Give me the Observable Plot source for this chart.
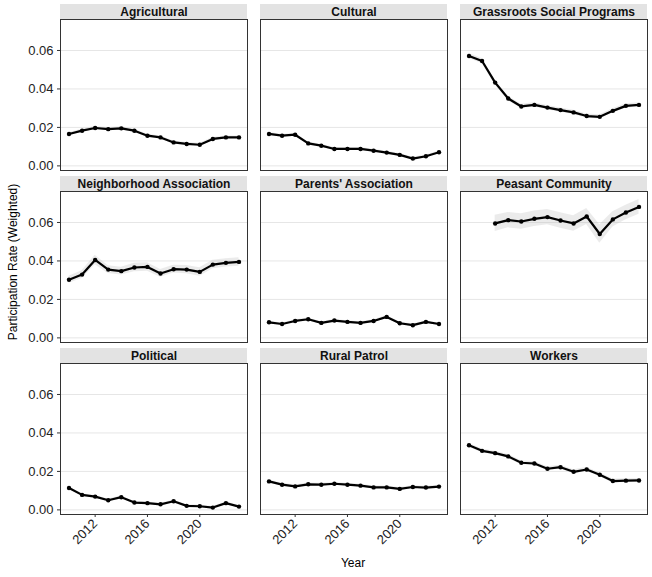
<!DOCTYPE html>
<html>
<head>
<meta charset="utf-8">
<script src="https://cdn.jsdelivr.net/npm/d3@7"></script>
<script src="https://cdn.jsdelivr.net/npm/@observablehq/plot@0.6"></script>
<style>
  html, body { margin: 0; padding: 0; background: #fff; }
  #wrap { position: relative; width: 652px; height: 577px; font-family: "Liberation Sans", Arial, Helvetica, sans-serif; }
  .lab { position: absolute; font-size: 12px; color: #000; white-space: nowrap; }
</style>
</head>
<body>
<div id="wrap"></div>
<script>
// ---- Data ----
const years = [2010, 2011, 2012, 2013, 2014, 2015, 2016, 2017, 2018, 2019, 2020, 2021, 2022, 2023];
const categories = ["Agricultural", "Cultural", "Grassroots Social Programs",
  "Neighborhood Association", "Parents' Association", "Peasant Community",
  "Political", "Rural Patrol", "Workers"];

const agricultural = [0.0166, 0.0183, 0.0197, 0.0191, 0.0195, 0.0183, 0.0157, 0.0148, 0.0122, 0.0114, 0.0110, 0.0140, 0.0148, 0.0148];
const cultural     = [0.0166, 0.0157, 0.0162, 0.0117, 0.0105, 0.0088, 0.0088, 0.0088, 0.0079, 0.0069, 0.0057, 0.0038, 0.0050, 0.0071];
const grassroots   = [0.0571, 0.0545, 0.0433, 0.0350, 0.0309, 0.0317, 0.0303, 0.0290, 0.0278, 0.0259, 0.0255, 0.0286, 0.0312, 0.0317];
const neighborhood = [0.0302, 0.0329, 0.0405, 0.0355, 0.0347, 0.0366, 0.0369, 0.0335, 0.0357, 0.0355, 0.0343, 0.0381, 0.0390, 0.0395];
const parents      = [0.0081, 0.0072, 0.0088, 0.0097, 0.0078, 0.0090, 0.0083, 0.0078, 0.0088, 0.0109, 0.0076, 0.0066, 0.0083, 0.0072];
const peasant      = [null, null, 0.0595, 0.0612, 0.0605, 0.0619, 0.0628, 0.0610, 0.0595, 0.0631, 0.0540, 0.0616, 0.0652, 0.0681];
const political    = [0.0114, 0.0078, 0.0069, 0.0050, 0.0066, 0.0038, 0.0035, 0.0029, 0.0045, 0.0021, 0.0019, 0.0012, 0.0035, 0.0017];
const ruralPatrol  = [0.0148, 0.0131, 0.0122, 0.0133, 0.0131, 0.0136, 0.0131, 0.0126, 0.0117, 0.0117, 0.0109, 0.0119, 0.0116, 0.0121];
const workers      = [0.0336, 0.0307, 0.0295, 0.0278, 0.0245, 0.0241, 0.0214, 0.0222, 0.0198, 0.0210, 0.0183, 0.0150, 0.0152, 0.0153];

// half-width of the shaded confidence band
const agriculturalCI = [0.0008, 0.0008, 0.0008, 0.0008, 0.0008, 0.0008, 0.0008, 0.0008, 0.0008, 0.0008, 0.0008, 0.0008, 0.0008, 0.0008];
const culturalCI     = [0.0007, 0.0007, 0.0007, 0.0007, 0.0007, 0.0007, 0.0007, 0.0007, 0.0007, 0.0007, 0.0007, 0.0007, 0.0007, 0.0007];
const grassrootsCI   = [0.0013, 0.0013, 0.0013, 0.0012, 0.0011, 0.0011, 0.0011, 0.0011, 0.0011, 0.0011, 0.0011, 0.0011, 0.0011, 0.0011];
const neighborhoodCI = [0.0018, 0.0020, 0.0025, 0.0020, 0.0020, 0.0022, 0.0022, 0.0020, 0.0020, 0.0021, 0.0022, 0.0022, 0.0022, 0.0022];
const parentsCI      = [0.0006, 0.0006, 0.0006, 0.0006, 0.0006, 0.0006, 0.0006, 0.0006, 0.0006, 0.0007, 0.0006, 0.0006, 0.0006, 0.0006];
const peasantCI      = [null, null, 0.0042, 0.0040, 0.0040, 0.0040, 0.0040, 0.0040, 0.0040, 0.0042, 0.0048, 0.0040, 0.0038, 0.0038];
const politicalCI    = [0.0006, 0.0006, 0.0006, 0.0006, 0.0006, 0.0006, 0.0006, 0.0006, 0.0006, 0.0006, 0.0006, 0.0006, 0.0006, 0.0006];
const ruralPatrolCI  = [0.0007, 0.0007, 0.0007, 0.0007, 0.0007, 0.0007, 0.0007, 0.0007, 0.0007, 0.0007, 0.0007, 0.0007, 0.0007, 0.0007];
const workersCI      = [0.0010, 0.0010, 0.0010, 0.0010, 0.0010, 0.0010, 0.0010, 0.0010, 0.0010, 0.0010, 0.0010, 0.0010, 0.0010, 0.0010];

const yTicks = [0, 0.02, 0.04, 0.06];
const xTicks = [2012, 2016, 2020];

// ---- Build the table ----
const seriesList = [agricultural, cultural, grassroots, neighborhood, parents, peasant, political, ruralPatrol, workers];
const ciList = [agriculturalCI, culturalCI, grassrootsCI, neighborhoodCI, parentsCI, peasantCI, politicalCI, ruralPatrolCI, workersCI];
const rows = [];
categories.forEach((cat, i) => {
  years.forEach((yr, j) => {
    const v = seriesList[i][j];
    if (v == null) return;
    const ci = ciList[i][j];
    rows.push({cat, col: i % 3, row: Math.floor(i / 3), year: yr, value: v, lo: v - ci, hi: v + ci});
  });
});
const strips = categories.map((cat, i) => ({cat, col: i % 3, row: Math.floor(i / 3)}));

const xDomain = [2009.35, 2023.65];
const yDomain = [-0.0024, 0.0761];
const stripTop = 0.0839;

const chart = Plot.plot({
  width: 652,
  height: 577,
  marginLeft: 60,
  marginRight: 5,
  marginTop: 18,
  marginBottom: 61,
  style: {fontFamily: '"Liberation Sans", Arial, Helvetica, sans-serif', fontSize: "12px", background: "#fff"},
  fx: {domain: [0, 1, 2], padding: 0.065, axis: null, label: null},
  fy: {domain: [0, 1, 2], padding: 0.121, axis: null, label: null},
  x: {domain: xDomain, label: null},
  y: {domain: yDomain, label: null},
  marks: [
    Plot.gridY(yTicks, {stroke: "#e6e6e6", strokeOpacity: 1, strokeWidth: 1}),
    Plot.areaY(rows, {x: "year", y1: "lo", y2: "hi", fx: "col", fy: "row", z: "cat", fill: "#bdbdbd", fillOpacity: 0.3, curve: "linear"}),
    Plot.line(rows, {x: "year", y: "value", fx: "col", fy: "row", z: "cat", stroke: "#000", strokeWidth: 2.2}),
    Plot.dot(rows, {x: "year", y: "value", fx: "col", fy: "row", r: 2.2, fill: "#000", stroke: "none"}),
    Plot.frame({stroke: "#333", strokeWidth: 1}),
    Plot.rect(strips, {fx: "col", fy: "row", x1: () => xDomain[0], x2: () => xDomain[1], y1: () => yDomain[1], y2: () => stripTop, fill: "#e3e3e3", clip: false}),
    Plot.text(strips, {fx: "col", fy: "row", text: "cat", frameAnchor: "top", lineAnchor: "middle", dy: -7.5, fontWeight: "bold", fontSize: 12, fill: "#111"}),
    Plot.axisY(yTicks, {tickSize: 3, tickPadding: 4, tickFormat: d3.format(".2f"), fontSize: 13, fill: "#222", stroke: "#333", label: null}),
    Plot.axisX(xTicks, {tickSize: 3, tickPadding: 4, tickRotate: -45, tickFormat: d => String(d), fontSize: 13, fill: "#222", stroke: "#333", label: null})
  ]
});

const wrap = document.getElementById("wrap");
wrap.appendChild(chart);

const yLab = document.createElement("div");
yLab.className = "lab";
yLab.textContent = "Participation Rate (Weighted)";
yLab.style.left = "13px";
yLab.style.top = "262px";
yLab.style.transform = "translate(-50%, -50%) rotate(-90deg)";
wrap.appendChild(yLab);

const xLab = document.createElement("div");
xLab.className = "lab";
xLab.textContent = "Year";
xLab.style.left = "353px";
xLab.style.top = "563px";
xLab.style.transform = "translate(-50%, -50%)";
wrap.appendChild(xLab);
</script>
</body>
</html>
